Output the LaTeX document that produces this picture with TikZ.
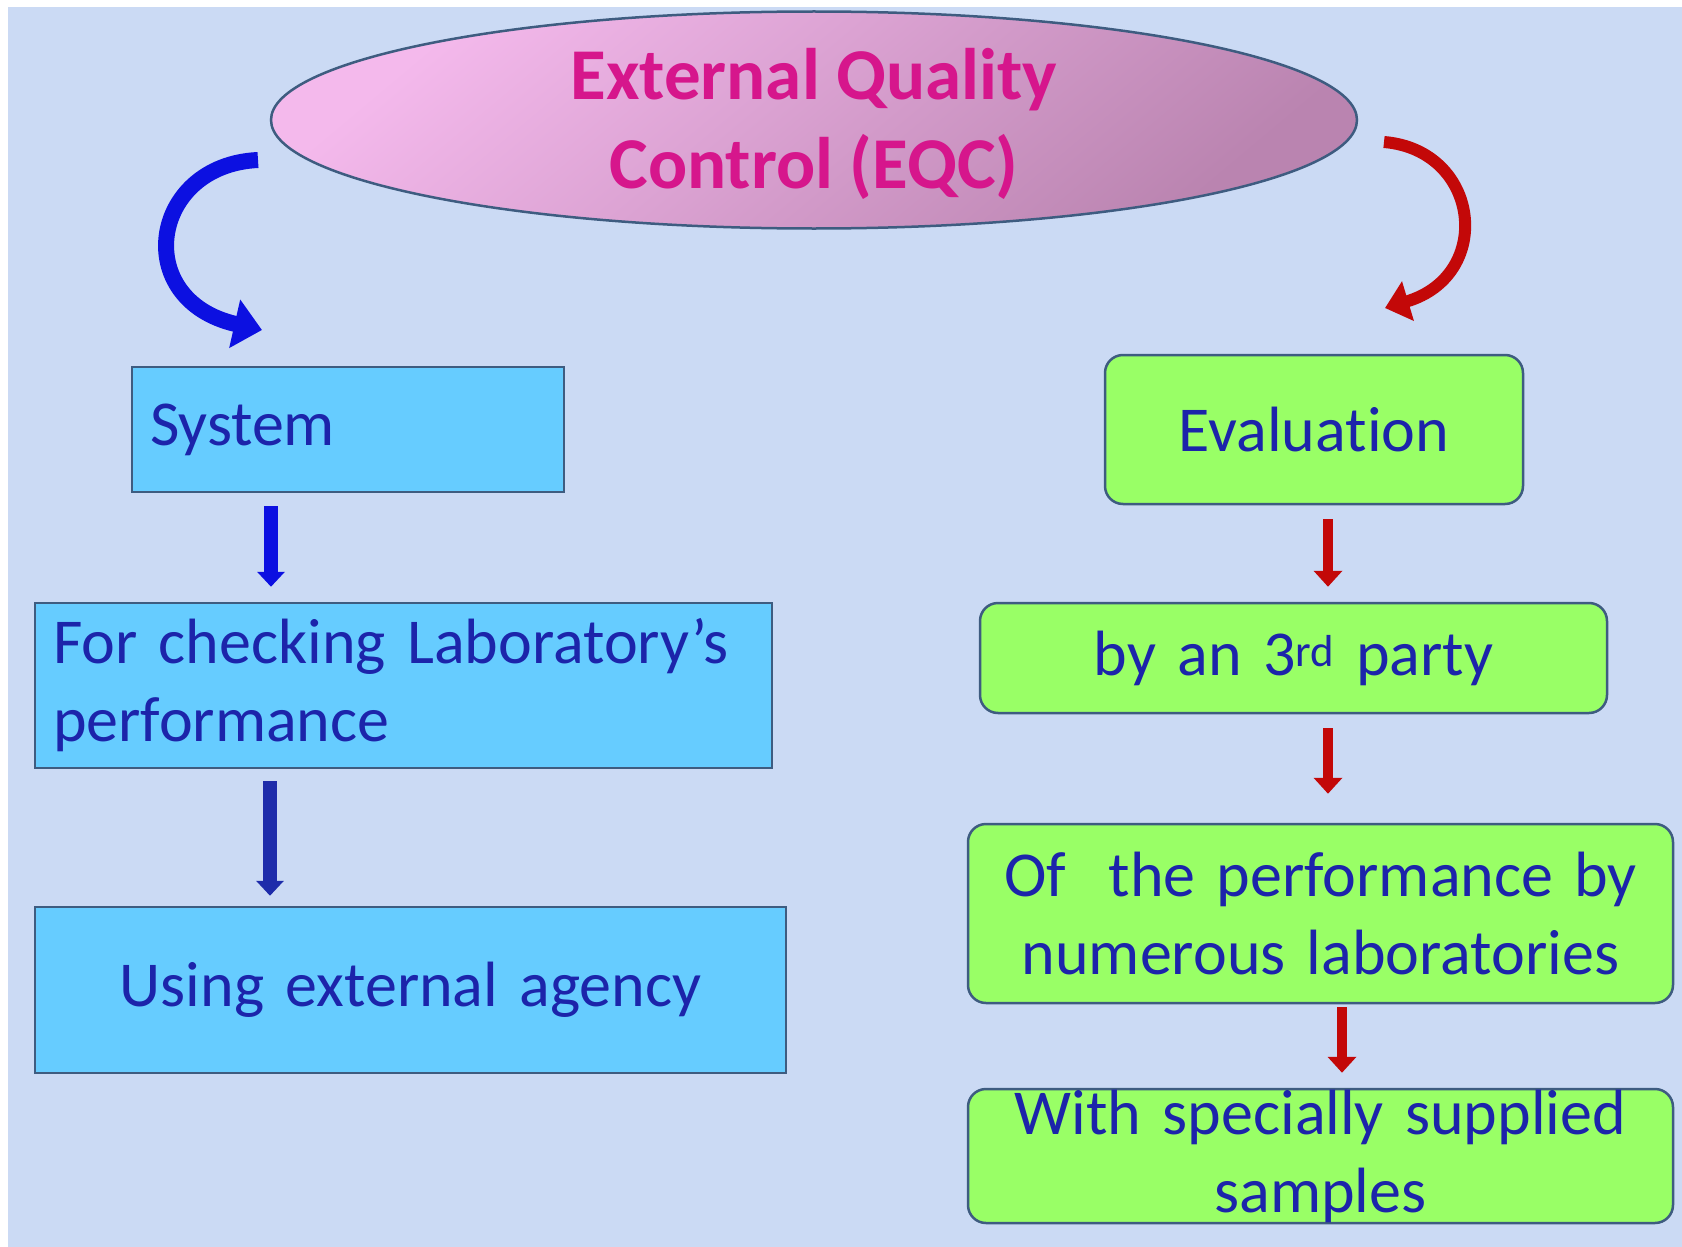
\documentclass[tikz,border=0pt]{standalone}
\usepackage{fontspec}
\setmainfont{Carlito}[Ligatures={TeX,NoCommon}]
\usetikzlibrary{shapes.geometric, arrows.meta, positioning}
\definecolor{backcol}{RGB}{203,218,244}
\definecolor{skyfill}{RGB}{102,204,255}
\definecolor{limefill}{RGB}{153,255,102}
\definecolor{edgecol}{RGB}{62,92,128}
\definecolor{inkblue}{RGB}{28,36,170}
\definecolor{eqcpink}{RGB}{214,22,140}
\definecolor{eqclight}{RGB}{244,185,236}
\definecolor{eqcdark}{RGB}{186,132,176}
\definecolor{arrblue}{RGB}{12,16,225}
\definecolor{arrdark}{RGB}{30,44,170}
\definecolor{arrred}{RGB}{195,8,8}

\begin{document}
\begin{tikzpicture}[x=1pt, y=-1pt,
  title/.style={ellipse, draw=edgecol, line width=2.5pt, left color=eqclight, right color=eqcdark, shading angle=40, text=eqcpink, font=\bfseries\fontsize{73}{89}\selectfont, align=center, inner sep=0pt},
  box/.style={draw=edgecol, line width=2.5pt, text=inkblue, font=\fontsize{64}{78}\selectfont, inner xsep=18pt, inner ysep=0pt},
  sysbox/.style={box, fill=skyfill, align=left},
  evalbox/.style={box, fill=limefill, rounded corners=18pt, align=center},
  downarr/.style={line width=14pt, -{Triangle[width=27pt,length=15pt]}},
  redarr/.style={arrred, line width=10pt, -{Triangle[width=28pt,length=16pt]}}]

  \useasboundingbox (0,0) rectangle (1682,1247);
  \fill[backcol] (8,7) rectangle (1682,1247);

  \node[title, minimum width=1086pt, minimum height=217pt] (EQC) at (814,120) {\raisebox{-4pt}[\height][\depth]{External Quality}\\\raisebox{-4pt}[\height][\depth]{Control (EQC)}};

  \node[sysbox, minimum width=432pt, minimum height=125pt, text width=396pt] (sys) at (348,429.5) {System};
  \node[sysbox, minimum width=737pt, minimum height=165pt, text width=701pt] (chk) at (403.5,685.5) {For checking Laboratory's\\performance};
  \node[sysbox, align=center, minimum width=751pt, minimum height=166pt, text width=715pt] (agency) at (410.5,990) {Using external agency};

  \node[evalbox, minimum width=418pt, minimum height=149pt, text width=382pt] (eval) at (1314,429.5) {Evaluation};
  \node[evalbox, minimum width=627pt, minimum height=110pt, text width=591pt] (party) at (1293.5,658) {by an 3\textsuperscript{rd} party};
  \node[evalbox, minimum width=705pt, minimum height=179pt, text width=669pt] (perf) at (1320.5,913.5) {Of~ the performance by\\numerous laboratories};
  \node[evalbox, minimum width=705pt, minimum height=134pt, text width=669pt] (samples) at (1320.5,1156) {With specially supplied\\samples};

  \coordinate (bl) at (258,160);
  \coordinate (bltip) at (262,330);
  \coordinate (rr) at (1384,142);
  \coordinate (rrtip) at (1385,308);
  \draw[arrblue, line width=16pt, -{Triangle[width=48pt,length=28pt]}] (bl) .. controls (150,165) and (130,300) .. (bltip);
  \draw[arrred, line width=12pt, -{Triangle[width=40pt,length=24pt]}] (rr) .. controls (1480,150) and (1495,275) .. (rrtip);

  \draw[downarr, arrblue, shorten <=13pt, shorten >=15pt] ([xshift=-77pt]sys.south) -- ([xshift=-132.5pt]chk.north);
  \draw[downarr, arrdark, shorten <=12pt, shorten >=10pt] ([xshift=-133.5pt]chk.south) -- ([xshift=-140.5pt]agency.north);
  \draw[redarr, shorten <=14pt, shorten >=15pt] ([xshift=14pt]eval.south) -- ([xshift=34.5pt]party.north);
  \draw[redarr, shorten <=14pt, shorten >=29pt] ([xshift=34.5pt]party.south) -- ([xshift=7.5pt]perf.north);
  \draw[redarr, shorten <=3pt, shorten >=15pt] ([xshift=21.5pt]perf.south) -- ([xshift=21.5pt]samples.north);
\end{tikzpicture}
\end{document}
